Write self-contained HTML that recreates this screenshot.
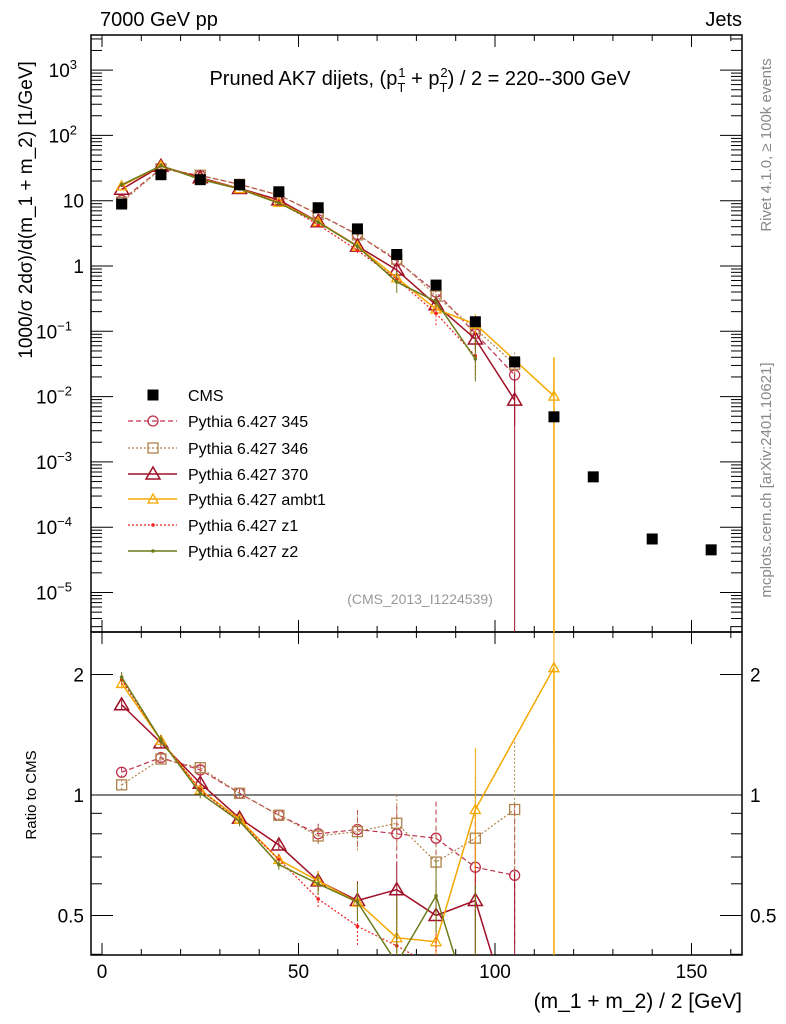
<!DOCTYPE html>
<html><head><meta charset="utf-8"><style>
html,body{margin:0;padding:0;background:#fff;overflow:hidden;}
svg{display:block;font-family:"Liberation Sans",sans-serif;}
</style></head><body>
<svg id="c" width="786" height="1024" viewBox="0 0 786 1024"></svg>
<script>
const xBins=[5,15,25,35,45,55,65,75,85,95,105,115,125,140,155];
const cmsVals=[8.9,25,21,17.6,13.7,7.8,3.7,1.5,0.51,0.14,0.034,0.0049,0.00059,0.000066,0.000045];
const mcX=[5,15,25,35,45,55,65,75,85,95,105,115];
const r345=[1.14,1.24,1.155,1.01,0.89,0.80,0.82,0.80,0.78,0.66,0.63,null];
const r346=[1.06,1.23,1.17,1.01,0.89,0.79,0.81,0.85,0.68,0.78,0.92,null];
const r370=[1.68,1.35,1.07,0.875,0.75,0.61,0.545,0.58,0.5,0.545,0.26,null];
const rambt1=[1.9,1.37,1.03,0.87,0.69,0.61,0.54,0.44,0.43,0.92,null,2.08];
const rz1=[1.94,1.37,1.03,0.86,0.69,0.55,0.47,0.42,0.37,0.30,null,null];
const rz2=[1.97,1.37,1.01,0.86,0.67,0.60,0.54,0.38,0.56,0.27,null,null];
const xTicks=[0,50,100,150];
const yTicksMain=[3,2,1,0,-1,-2,-3,-4,-5];
const yTicksRatio=[2,1,0.5];

const NS="http://www.w3.org/2000/svg";
const svg=document.getElementById('c');
function el(t,a,p){const e=document.createElementNS(NS,t);for(const k in a)e.setAttribute(k,a[k]);(p||svg).appendChild(e);return e;}
const L=91,R=742,T=35,MB=632,B=955;
const X=v=>102+v*3.93;
const Y=v=>266-Math.log10(v)*65.3;
const YR=v=>795-Math.log2(v)*120.5;

const f1=el('rect',{x:L,y:T,width:R-L,height:MB-T,fill:'none',stroke:'#000','stroke-width':1.5});

const f2=el('rect',{x:L,y:MB,width:R-L,height:B-MB,fill:'none',stroke:'#000','stroke-width':1.5});


for(let v=0;v<=160;v+=10){
  const x=X(v),maj=v%50===0;
  const len=maj?12:6;
  for(const [yb,dir] of [[MB,-1],[T,1],[B,-1],[MB,1]]){el('line',{x1:x,x2:x,y1:yb,y2:yb+dir*len,stroke:'#000'});}
}
xTicks.forEach(v=>{const t=el('text',{x:X(v),y:978,'font-size':19,'text-anchor':'middle'});t.textContent=v;
});
for(let d=-6;d<=3;d++){
  for(let m=1;m<10;m++){const v=m*Math.pow(10,d);const y=Y(v);if(y<T||y>MB)continue;
    const len=m===1?22:11;
    el('line',{x1:L,x2:L+len,y1:y,y2:y,stroke:'#000'});el('line',{x1:R,x2:R-len,y1:y,y2:y,stroke:'#000'});}
}
yTicksMain.forEach(d=>{const t=el('text',{x:84,y:Y(Math.pow(10,d))+7,'font-size':19,'text-anchor':'end'});
  if(d>=2||d<=-1){t.innerHTML='10<tspan font-size="13" dy="-8">'+(d<0?'−'+(-d):d)+'</tspan>';t.setAttribute('x',84-(d<0?12:7));}
  else t.textContent=d===1?'10':'1';
  });
[0.4,0.5,0.6,0.7,0.8,0.9,1,2].forEach(v=>{const y=YR(v);const len=(v===0.5||v===1||v===2)?22:11;
  el('line',{x1:L,x2:L+len,y1:y,y2:y,stroke:'#000'});el('line',{x1:R,x2:R-len,y1:y,y2:y,stroke:'#000'});});
yTicksRatio.forEach(v=>{for(const [x,a] of [[84,'end'],[750,'start']]){const t=el('text',{x:x,y:YR(v)+7,'font-size':19,'text-anchor':a});t.textContent=v;
  }});
el('line',{x1:L,x2:R,y1:YR(1),y2:YR(1),stroke:'#000'});

const defs=el('defs',{});
const c1=el('clipPath',{id:'cm'},defs);el('rect',{x:L,y:T,width:R-L,height:MB-T},c1);
const c2=el('clipPath',{id:'cr'},defs);el('rect',{x:L,y:MB,width:R-L,height:B-MB},c2);
const gM=el('g',{'clip-path':'url(#cm)'});const gR=el('g',{'clip-path':'url(#cr)'});

const series=[
 {name:'345',r:r345,c:'#c0304a',dash:'5,3',m:'circle',w:1.2},
 {name:'346',r:r346,c:'#b0834a',dash:'2,2',m:'square',w:1.2},
 {name:'370',r:r370,c:'#a01028',dash:'',m:'tri',w:1.5},
 {name:'ambt1',r:rambt1,c:'#f5a800',dash:'',m:'tri-s',w:1.5},
 {name:'z1',r:rz1,c:'#f02020',dash:'2,2',m:'dot',w:1.2},
 {name:'z2',r:rz2,c:'#6e7a18',dash:'',m:'dot',w:1.5}];
function marker(g,m,x,y,c){
  if(m==='circle')return el('circle',{cx:x,cy:y,r:5,fill:'none',stroke:c,'stroke-width':1.3},g);
  if(m==='square')return el('rect',{x:x-5,y:y-5,width:10,height:10,fill:'none',stroke:c,'stroke-width':1.3},g);
  if(m==='tri')return el('polygon',{points:`${x},${y-7} ${x-7},${y+5} ${x+7},${y+5}`,fill:'none',stroke:c,'stroke-width':1.5},g);
  if(m==='tri-s')return el('polygon',{points:`${x},${y-5} ${x-5},${y+4} ${x+5},${y+4}`,fill:'none',stroke:c,'stroke-width':1.3},g);
  return el('circle',{cx:x,cy:y,r:1.8,fill:c},g);
}
series.forEach(s=>{
  const gm=el('g',{},gM);
  const gr=el('g',{},gR);
  let pm=[],pr=[];
  mcX.forEach((x,i)=>{const r=s.r[i];if(r==null)return;const v=r*cmsVals[i];
    pm.push(X(x)+','+Y(v));pr.push(X(x)+','+YR(r));});
  el('polyline',{points:pm.join(' '),fill:'none',stroke:s.c,'stroke-width':s.w,'stroke-dasharray':s.dash},gm);
  el('polyline',{points:pr.join(' '),fill:'none',stroke:s.c,'stroke-width':s.w,'stroke-dasharray':s.dash},gr);
  mcX.forEach((x,i)=>{const r=s.r[i];if(r==null)return;const v=r*cmsVals[i];
    const e=0.03+0.35*Math.max(0,(x-50)/60)*(x>=95?1.5:1)*(r<0.4?3:1);
    el('line',{x1:X(x),x2:X(x),y1:YR(r*(1+e)),y2:YR(r/(1+e)),stroke:s.c,'stroke-dasharray':s.dash},gr);
    el('line',{x1:X(x),x2:X(x),y1:Y(v*(1+e)),y2:Y(v/(1+e)),stroke:s.c,'stroke-dasharray':s.dash},gm);
    marker(gm,s.m,X(x),Y(v),s.c);marker(gr,s.m,X(x),YR(r),s.c);});
});
el('line',{x1:X(105),x2:X(105),y1:Y(0.015),y2:MB,stroke:'#a01028'},gM);
el('line',{x1:X(115),x2:X(115),y1:Y(0.04),y2:MB,stroke:'#f5a800','stroke-width':1.5},gM);
el('line',{x1:X(115),x2:X(115),y1:YR(2.08),y2:B,stroke:'#f5a800','stroke-width':1.5},gR);
const gc=el('g',{});
xBins.forEach((x,i)=>{const p=el('rect',{x:X(x)-5.5,y:Y(cmsVals[i])-5.5,width:11,height:11,fill:'#000'},gc);
  });

const legY=[395,421,448,474,499,525,551];
const legNames=['CMS','Pythia 6.427 345','Pythia 6.427 346','Pythia 6.427 370','Pythia 6.427 ambt1','Pythia 6.427 z1','Pythia 6.427 z2'];
legNames.forEach((n,i)=>{const g=el('g',{});
  const y=legY[i];
  if(i===0)el('rect',{x:147.5,y:y-5.5,width:11,height:11,fill:'#000'},g);
  else{const s=series[i-1];el('line',{x1:128,x2:177,y1:y,y2:y,stroke:s.c,'stroke-width':s.w,'stroke-dasharray':s.dash},g);marker(g,s.m,153,y,s.c);}
  const t=el('text',{x:188,y:y+6,'font-size':16},g);t.textContent=n;});

function txt(x,y,s,attrs,name){const t=el('text',Object.assign({x:x,y:y},attrs));t.innerHTML=s;return t;}
txt(100,26,'7000 GeV pp',{'font-size':20},'energy-label');
txt(742,26,'Jets',{'font-size':20,'text-anchor':'end'},'category-label');
txt(420,85,'Pruned AK7 dijets, (p<tspan font-size="13" dy="7">T</tspan><tspan font-size="13" dx="-7" dy="-15">1</tspan><tspan dy="8"> + p</tspan><tspan font-size="13" dy="7">T</tspan><tspan font-size="13" dx="-7" dy="-15">2</tspan><tspan dy="8">) / 2 = 220--300 GeV</tspan>',{'font-size':20,'text-anchor':'middle'},'plot-title');
txt(420,604,'(CMS_2013_I1224539)',{'font-size':14,'text-anchor':'middle',fill:'#999'},'analysis-id');
txt(742,1008,'(m_1 + m_2) / 2 [GeV]',{'font-size':21,'text-anchor':'end'},'x-axis-title');
txt(0,0,'1000/σ  2dσ)/d(m_1 + m_2) [1/GeV]',{'font-size':19,'text-anchor':'middle',transform:'translate(32,210) rotate(-90)'},'y-axis-title');
txt(0,0,'Ratio to CMS',{'font-size':15,'text-anchor':'middle',transform:'translate(36,795) rotate(-90)'},'ratio-axis-title');
txt(0,0,'Rivet 4.1.0, ≥ 100k events',{'font-size':15,'text-anchor':'middle',fill:'#888',transform:'translate(771,145) rotate(-90)'},'rivet-label');
txt(0,0,'mcplots.cern.ch [arXiv:2401.10621]',{'font-size':15,'text-anchor':'middle',fill:'#888',transform:'translate(771,480) rotate(-90)'},'mcplots-label');
</script>
</body></html>
